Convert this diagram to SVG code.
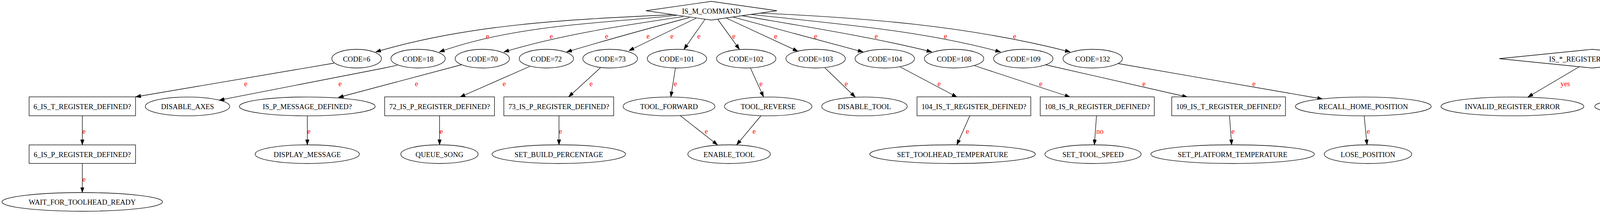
<svg xmlns="http://www.w3.org/2000/svg" width="4712" height="549" viewBox="0 0 4712 549">
<style>
.n{fill:#fff;stroke:#000;stroke-width:1.3}
.t{font-family:"Liberation Serif","Times New Roman",serif;font-size:18.5px;fill:#000;text-anchor:middle}
.e{fill:none;stroke:#000;stroke-width:1.3;marker-end:url(#ah)}
.l{font-family:"Liberation Serif","Times New Roman",serif;font-size:18.5px;fill:#ff0000;text-anchor:middle}
</style>
<defs>
<marker id="ah" markerUnits="userSpaceOnUse" markerWidth="13.5" markerHeight="10" viewBox="0 0 13.5 10" refX="13.5" refY="5" orient="auto">
<path d="M0,0.3 L13.5,5 L0,9.7 z" fill="#000" stroke="#000" stroke-width="0.8"/>
</marker>
</defs>
<rect width="4712" height="549" fill="#fff"/>
<g id="edges">
<path class="e" d="M1726,37.5 C1469.1,49.7 1209.7,59.7 961.6,133.3"/>
<path class="e" d="M1732,39.3 C1528.9,61.4 1319.8,63.6 1124.5,133.3"/>
<path class="e" d="M1748.7,42.7 C1588.7,66.4 1439.7,88.3 1289.7,133.3"/>
<path class="e" d="M1765,45 C1655,74.3 1550,103.5 1450.4,133.3"/>
<path class="e" d="M1781.9,46.7 L1609.8,130"/>
<path class="e" d="M1804.7,50 L1750.8,126.7"/>
<path class="e" d="M1837.8,50 L1893,126.7"/>
<path class="e" d="M1858.5,46 L2043,131.7"/>
<path class="e" d="M1875,43.3 L2209.7,133.3"/>
<path class="e" d="M1898,40 C2048,66 2235.7,95.3 2385.7,133.3"/>
<path class="e" d="M1918.6,36.7 C2134.3,60.7 2352.3,76.5 2561.7,133.3"/>
<path class="e" d="M1939.4,33.3 C2208.4,45 2479,66 2740,133.3"/>
<text class="l" x="1248" y="98.5">e</text>
<text class="l" x="1411" y="98.5">e</text>
<text class="l" x="1553" y="98.5">e</text>
<text class="l" x="1659" y="98.5">e</text>
<text class="l" x="1720" y="98.5">e</text>
<text class="l" x="1789" y="98.5">e</text>
<text class="l" x="1878.5" y="98.5">e</text>
<text class="l" x="1985.5" y="98.5">e</text>
<text class="l" x="2088" y="98.5">e</text>
<text class="l" x="2243" y="98.5">e</text>
<text class="l" x="2420.5" y="98.5">e</text>
<text class="l" x="2597.5" y="98.5">e</text>

<path class="e" d="M855,162 L347,248.5"/>
<path class="e" d="M1017,167.3 L981,175 L561,257"/>
<path class="e" d="M1181.6,166 L866,250"/>
<path class="e" d="M1356,170.5 L1177.5,249"/>
<path class="e" d="M1537,174 L1455.6,248.5"/>
<path class="e" d="M1729,175 L1717.4,248.5"/>
<path class="e" d="M1921.4,175 L1954.6,248.5"/>
<path class="e" d="M2111.7,174 L2189.4,249"/>
<path class="e" d="M2304,171.5 L2450,249"/>
<path class="e" d="M2493.4,168 L2739.5,249"/>
<path class="e" d="M2675.8,166 L3040,249"/>
<path class="e" d="M2862,163 L3386,254"/>
<text class="l" x="629" y="221">e</text>
<text class="l" x="870.5" y="221">e</text>
<text class="l" x="1066.3" y="221">e</text>
<text class="l" x="1290.8" y="221">e</text>
<text class="l" x="1513" y="221">e</text>
<text class="l" x="1729" y="221">e</text>
<text class="l" x="1948" y="221">e</text>
<text class="l" x="2166.3" y="221">e</text>
<text class="l" x="2404" y="221">e</text>
<text class="l" x="2664.3" y="221">e</text>
<text class="l" x="2928.6" y="221">e</text>
<text class="l" x="3210" y="221">e</text>

<path class="e" d="M210.7,297 L210.7,371.7"/>
<path class="e" d="M786.7,297 L786.7,371.7"/>
<path class="e" d="M1125.3,297 L1125.3,371.7"/>
<path class="e" d="M1431,297 L1431,371.7"/>
<path class="e" d="M1741.8,297 L1837,371.7"/>
<path class="e" d="M1948,297 L1885.7,371.7"/>
<path class="e" d="M2482.7,297 L2449.5,371.7"/>
<path class="e" d="M2807,297 L2801.6,371.7"/>
<path class="e" d="M3147.5,297 L3153,371.7"/>
<path class="e" d="M3492.3,297 L3499.5,371.7"/>
<text class="l" x="215" y="343">e</text>
<text class="l" x="790.8" y="343">e</text>
<text class="l" x="1129.6" y="343">e</text>
<text class="l" x="1434.7" y="343">e</text>
<text class="l" x="1808" y="343">e</text>
<text class="l" x="1930.6" y="343">e</text>
<text class="l" x="2476.5" y="343">e</text>
<text class="l" x="2815.8" y="343">no</text>
<text class="l" x="3156.7" y="343">e</text>
<text class="l" x="3503" y="343">e</text>

<path class="e" d="M210.7,419.3 L210.7,494"/>
<text class="l" x="215" y="466">e</text>

<path class="e" d="M4334,51.8 L4125.3,131"/>
<path class="e" d="M4420.5,51.8 L4498,126"/>
<path class="e" d="M4042.4,171.5 L3911.4,249"/>
<path class="e" d="M4109.7,171.5 L4240.8,249"/>
<text class="l" x="4279" y="98.5">yes</text>
<text class="l" x="4482.6" y="98.5">no</text>
<text class="l" x="4007" y="221">yes</text>
<text class="l" x="4206.6" y="221">no</text>
</g>

<g id="IS_M_COMMAND"><polygon class="n" points="1653.5,27.5 1821,3.5 1989,27.5 1821,51.5"/><text class="t" x="1821" y="34.5">IS_M_COMMAND</text></g>
<g id="IS_ANY_REGISTER_DEFINED"><rect class="n" x="4270" y="3.5" width="252" height="48.3"/><text class="t" x="4396" y="34.5">IS_*_REGISTER_DEFINED?</text></g>

<g id="CODE_6"><ellipse class="n" cx="913" cy="150.5" rx="63.5" ry="24"/><text class="t" x="913" y="157.5">CODE=6</text></g>
<g id="CODE_18"><ellipse class="n" cx="1070.3" cy="150.5" rx="69.5" ry="24"/><text class="t" x="1070.3" y="157.5">CODE=18</text></g>
<g id="CODE_70"><ellipse class="n" cx="1234.7" cy="150.5" rx="69.5" ry="24"/><text class="t" x="1234.7" y="157.5">CODE=70</text></g>
<g id="CODE_72"><ellipse class="n" cx="1398.7" cy="150.5" rx="69.5" ry="24"/><text class="t" x="1398.7" y="157.5">CODE=72</text></g>
<g id="CODE_73"><ellipse class="n" cx="1562" cy="150.5" rx="70" ry="24"/><text class="t" x="1562" y="157.5">CODE=73</text></g>
<g id="CODE_101"><ellipse class="n" cx="1733" cy="150.5" rx="76" ry="24"/><text class="t" x="1733" y="157.5">CODE=101</text></g>
<g id="CODE_102"><ellipse class="n" cx="1910.3" cy="150.5" rx="76" ry="24"/><text class="t" x="1910.3" y="157.5">CODE=102</text></g>
<g id="CODE_103"><ellipse class="n" cx="2088" cy="150.5" rx="76" ry="24"/><text class="t" x="2088" y="157.5">CODE=103</text></g>
<g id="CODE_104"><ellipse class="n" cx="2265" cy="150.5" rx="76" ry="24"/><text class="t" x="2265" y="157.5">CODE=104</text></g>
<g id="CODE_108"><ellipse class="n" cx="2442.5" cy="150.5" rx="76" ry="24"/><text class="t" x="2442.5" y="157.5">CODE=108</text></g>
<g id="CODE_109"><ellipse class="n" cx="2619.6" cy="150.5" rx="76" ry="24"/><text class="t" x="2619.6" y="157.5">CODE=109</text></g>
<g id="CODE_132"><ellipse class="n" cx="2797.3" cy="150.5" rx="76" ry="24"/><text class="t" x="2797.3" y="157.5">CODE=132</text></g>
<g id="IS_ANY_REGISTER_A_FLAG"><polygon class="n" points="3837.8,150.5 4076,126.5 4314.3,150.5 4076,174.5"/><text class="t" x="4076" y="157.5">IS_*_REGISTER_A_FLAG?</text></g>
<g id="MISSING_REGISTER_ERROR"><ellipse class="n" cx="4522.5" cy="150.5" rx="184.5" ry="24"/><text class="t" x="4522.5" y="157.5">MISSING_REGISTER_ERROR</text></g>

<g id="IS6_T"><rect class="n" x="74.5" y="248.5" width="272.5" height="48.5"/><text class="t" x="210.7" y="280">6_IS_T_REGISTER_DEFINED?</text></g>
<g id="DISABLE_AXES"><ellipse class="n" cx="480" cy="273" rx="108" ry="24.2"/><text class="t" x="480" y="280">DISABLE_AXES</text></g>
<g id="IS_P_MESSAGE_DEFINED"><ellipse class="n" cx="786.6" cy="273" rx="174" ry="24.2"/><text class="t" x="786.6" y="280">IS_P_MESSAGE_DEFINED?</text></g>
<g id="IS72_P"><rect class="n" x="984.7" y="248.5" width="281.1" height="48.5"/><text class="t" x="1125.3" y="280">72_IS_P_REGISTER_DEFINED?</text></g>
<g id="IS73_P"><rect class="n" x="1289.8" y="248.5" width="281.2" height="48.5"/><text class="t" x="1430.4" y="280">73_IS_P_REGISTER_DEFINED?</text></g>
<g id="TOOL_FORWARD"><ellipse class="n" cx="1712.7" cy="273" rx="117.5" ry="24.2"/><text class="t" x="1712.7" y="280">TOOL_FORWARD</text></g>
<g id="TOOL_REVERSE"><ellipse class="n" cx="1966.6" cy="273" rx="112" ry="24.2"/><text class="t" x="1966.6" y="280">TOOL_REVERSE</text></g>
<g id="DISABLE_TOOL"><ellipse class="n" cx="2213" cy="273" rx="109.5" ry="24.2"/><text class="t" x="2213" y="280">DISABLE_TOOL</text></g>
<g id="IS104_T"><rect class="n" x="2347.5" y="248.5" width="291.3" height="48.5"/><text class="t" x="2493.1" y="280">104_IS_T_REGISTER_DEFINED?</text></g>
<g id="IS108_R"><rect class="n" x="2663" y="248.5" width="292" height="48.5"/><text class="t" x="2809" y="280">108_IS_R_REGISTER_DEFINED?</text></g>
<g id="IS109_T"><rect class="n" x="2999.6" y="248.5" width="291.2" height="48.5"/><text class="t" x="3145.2" y="280">109_IS_T_REGISTER_DEFINED?</text></g>
<g id="RECALL_HOME_POSITION"><ellipse class="n" cx="3490" cy="273" rx="174" ry="24.2"/><text class="t" x="3490" y="280">RECALL_HOME_POSITION</text></g>
<g id="INVALID_REGISTER_ERROR"><ellipse class="n" cx="3871.7" cy="273" rx="183" ry="24.2"/><text class="t" x="3871.7" y="280">INVALID_REGISTER_ERROR</text></g>
<g id="REGISTER_CHECK_RETURN"><ellipse class="n" cx="4278.5" cy="273" rx="196" ry="24.2"/><text class="t" x="4278.5" y="280">*_REGISTER_CHECK_RETURN</text></g>

<g id="IS6_P"><rect class="n" x="74.5" y="371.7" width="272.5" height="47.6"/><text class="t" x="210.7" y="402.5">6_IS_P_REGISTER_DEFINED?</text></g>
<g id="DISPLAY_MESSAGE"><ellipse class="n" cx="786.6" cy="395.5" rx="133.5" ry="24"/><text class="t" x="786.6" y="402.5">DISPLAY_MESSAGE</text></g>
<g id="QUEUE_SONG"><ellipse class="n" cx="1125" cy="395.5" rx="99" ry="24"/><text class="t" x="1125" y="402.5">QUEUE_SONG</text></g>
<g id="SET_BUILD_PERCENTAGE"><ellipse class="n" cx="1430.5" cy="395.5" rx="171" ry="24"/><text class="t" x="1430.5" y="402.5">SET_BUILD_PERCENTAGE</text></g>
<g id="ENABLE_TOOL"><ellipse class="n" cx="1866.5" cy="395.5" rx="105.6" ry="24"/><text class="t" x="1866.5" y="402.5">ENABLE_TOOL</text></g>
<g id="SET_TOOLHEAD_TEMPERATURE"><ellipse class="n" cx="2438.5" cy="395.5" rx="212" ry="24"/><text class="t" x="2438.5" y="402.5">SET_TOOLHEAD_TEMPERATURE</text></g>
<g id="SET_TOOL_SPEED"><ellipse class="n" cx="2798.2" cy="395.5" rx="123.2" ry="24"/><text class="t" x="2798.2" y="402.5">SET_TOOL_SPEED</text></g>
<g id="SET_PLATFORM_TEMPERATURE"><ellipse class="n" cx="3155.4" cy="395.5" rx="209.4" ry="24"/><text class="t" x="3155.4" y="402.5">SET_PLATFORM_TEMPERATURE</text></g>
<g id="LOSE_POSITION"><ellipse class="n" cx="3502" cy="395.5" rx="112" ry="24"/><text class="t" x="3502" y="402.5">LOSE_POSITION</text></g>

<g id="WAIT_FOR_TOOLHEAD_READY"><ellipse class="n" cx="210.5" cy="518" rx="205.5" ry="24"/><text class="t" x="210.5" y="525">WAIT_FOR_TOOLHEAD_READY</text></g>
</svg>
